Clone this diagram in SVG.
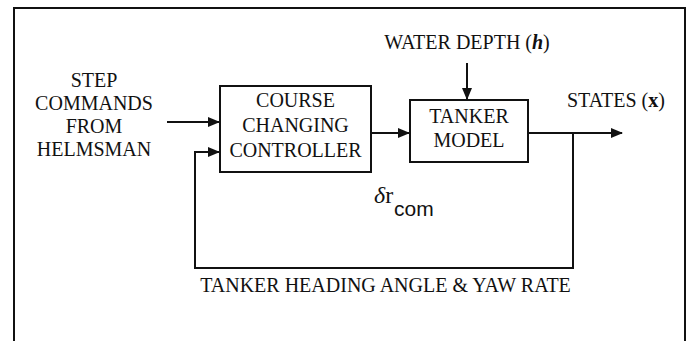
<svg xmlns="http://www.w3.org/2000/svg" width="691" height="341" viewBox="0 0 691 341">
<defs>
<style>
.t{font-family:"Liberation Serif","Times New Roman",serif;font-size:20px;fill:#111;}
.box{fill:#fff;stroke:#111;stroke-width:2;}
.ln{fill:none;stroke:#111;stroke-width:2;}
</style>
<marker id="ah" markerWidth="12" markerHeight="10" refX="11" refY="5" orient="auto" markerUnits="userSpaceOnUse">
<path d="M0,0 L12,5 L0,10 Z" fill="#111"/>
</marker>
</defs>
<rect x="0" y="0" width="691" height="341" fill="#fff"/>
<g id="frame"><path class="ln" d="M14,350 L14,8 L685,8 L685,350"/></g>
<g id="connectors">
<line class="ln" x1="167" y1="122" x2="219" y2="122" marker-end="url(#ah)"/>
<line class="ln" x1="371" y1="133" x2="409" y2="133" marker-end="url(#ah)"/>
<line class="ln" x1="467" y1="63" x2="467" y2="99" marker-end="url(#ah)"/>
<line class="ln" x1="528" y1="133" x2="622" y2="133" marker-end="url(#ah)"/>
<path class="ln" d="M573,133 L573,268 L195,268 L195,152 L219,152" marker-end="url(#ah)"/>
</g>
<g id="input">
<text class="t" text-anchor="middle"><tspan x="94" y="87">STEP</tspan><tspan x="94" y="110">COMMANDS</tspan><tspan x="94" y="133">FROM</tspan><tspan x="94" y="156">HELMSMAN</tspan></text>
</g>
<g id="controller">
<rect class="box" x="220" y="86" width="151" height="86"/>
<text class="t" text-anchor="middle"><tspan x="295.5" y="107">COURSE</tspan><tspan x="295.5" y="132">CHANGING</tspan><tspan x="295.5" y="157">CONTROLLER</tspan></text>
</g>
<g id="tanker">
<rect class="box" x="410" y="100" width="118" height="62"/>
<text class="t" text-anchor="middle"><tspan x="469" y="123">TANKER</tspan><tspan x="469" y="147">MODEL</tspan></text>
</g>
<g id="water">
<text class="t" x="467" y="49" text-anchor="middle">WATER DEPTH (<tspan font-style="italic" font-weight="bold">h</tspan>)</text>
</g>
<g id="states">
<text class="t" x="567" y="107">STATES (<tspan font-weight="bold">x</tspan>)</text>
</g>
<g id="delta">
<text x="374" y="203" style="font-family:'Liberation Serif',serif;font-size:24px;fill:#111"><tspan font-style="italic">δ</tspan>r</text>
<text x="394" y="216" style="font-family:'Liberation Sans',Arial,sans-serif;font-size:21px;fill:#111">com</text>
</g>
<g id="feedback">
<text class="t" x="385.5" y="292" text-anchor="middle">TANKER HEADING ANGLE &amp; YAW RATE</text>
</g>
</svg>
